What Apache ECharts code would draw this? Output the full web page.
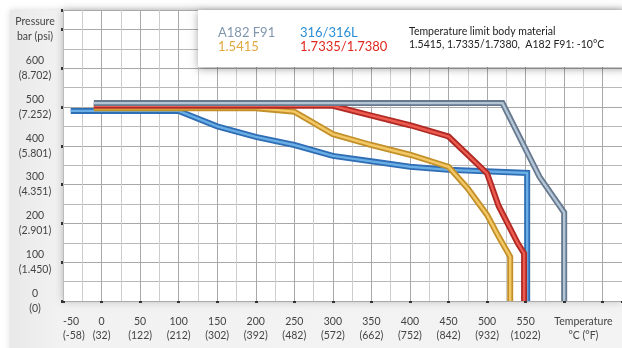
<!DOCTYPE html>
<html><head><meta charset="utf-8">
<script src="https://cdn.jsdelivr.net/npm/echarts@6/dist/echarts.min.js"></script>
<style>html,body{margin:0;padding:0;background:#fff}#c{width:622px;height:348px}</style>
</head><body><div id="c"></div>
<script>
// Tick labels
const xLabelPositions = [-50,0,50,100,150,200,250,300,350,400,450,500,550,625];
const xTickLabels = ['-50\n(-58)','0\n(32)','50\n(122)','100\n(212)','150\n(302)','200\n(392)','250\n(482)','300\n(572)','350\n(662)','400\n(752)','450\n(842)','500\n(932)','550\n(1022)','Temperature\n°C (°F)'];
const yLabelPositions = [0,100,200,300,400,500,600,700];
const yTickLabels = ['0\n(0)','100\n(1.450)','200\n(2.901)','300\n(4.351)','400\n(5.801)','500\n(7.252)','600\n(8.702)','Pressure\nbar (psi)'];

// Series: [temperature °C, pressure bar]
const a182F91 = [[-10,510],[520,510],[568,320],[600,228],[600,0]];
const s316L = [[-40,490],[100,490],[150,450],[200,423],[250,402],[300,374],[350,360],[400,346],[450,338],[552,330],[552,0]];
const m15415 = [[-10,497],[200,497],[250,488],[300,430],[350,402],[400,377],[450,346],[475,290],[500,222],[515,166],[530,114],[530,0]];
const m17335 = [[-10,503],[300,503],[350,478],[400,453],[450,424],[500,329],[515,245],[540,148],[548,123],[548,0]];

const seriesDefs = [
  {name:'316/316L', data:s316L, outer:'#2f6db4', inner:'#6aaee6'},
  {name:'1.5415', data:m15415, outer:'#c3902a', inner:'#f3c866'},
  {name:'1.7335/1.7380', data:m17335, outer:'#b02a24', inner:'#ec5a50'},
  {name:'A182 F91', data:a182F91, outer:'#66798f', inner:'#b4c5d6'}
];
const series = [];
seriesDefs.forEach(d => {
  series.push({type:'line', name:d.name, data:d.data, symbol:'none', silent:true,
    lineStyle:{color:d.outer, width:6, join:'miter', cap:'butt'}});
  series.push({type:'line', name:d.name+' ', data:d.data, symbol:'none', silent:true,
    lineStyle:{color:d.inner, width:2.4, join:'miter', cap:'butt'}});
});

const FONT = 'Lato';
function txt(x, y, text, color, size) {
  return {type:'text', x:x, y:y, z:101, style:{text:text, fill:color, fontFamily:FONT, fontSize:size, verticalAlign:'middle', align:'left'}};
}
const chart = echarts.init(document.getElementById('c'), null, {renderer:'canvas'});
chart.setOption({
  animation:false,
  backgroundColor:'#fff',
  textStyle:{fontFamily:FONT},
  graphic:[
    {type:'rect', z:-10, shape:{x:10,y:10,width:620,height:345},
      style:{fill:new echarts.graphic.LinearGradient(0,0,1,0,[{offset:0,color:'#e9e9e9'},{offset:0.08,color:'#f2f2f2'},{offset:1,color:'#f3f3f3'}]),
      shadowBlur:6, shadowColor:'rgba(0,0,0,0.15)'}},
    {type:'rect', z:100, shape:{x:198,y:10,width:430,height:57},
      style:{fill:'#fff', shadowBlur:8, shadowOffsetY:2, shadowColor:'rgba(0,0,0,0.35)'}},
    txt(218, 33, 'A182 F91', '#8096ad', 13),
    txt(218, 47, '1.5415', '#e0a840', 13),
    txt(300, 33, '316/316L', '#2a8ed6', 13),
    txt(300, 47, '1.7335/1.7380', '#e0281f', 13),
    txt(409, 32, 'Temperature limit body material', '#222', 10.5),
    txt(409, 45, '1.5415, 1.7335/1.7380,  A182 F91: -10°C', '#222', 10.5)
  ],
  grid:{left:63, top:10, width:561, height:291, show:true, backgroundColor:'#fff', borderWidth:0,
    shadowBlur:8, shadowColor:'rgba(0,0,0,0.25)'},
  xAxis:{type:'value', min:-50, max:675, interval:50,
    axisLine:{show:true, onZero:false, lineStyle:{color:'#aaa', width:1}},
    axisTick:{show:true, length:2, inside:false, lineStyle:{color:'#333', width:3}},
    axisLabel:{customValues:xLabelPositions, color:'#444', fontSize:10.5, lineHeight:14.5, margin:13, alignMinLabel:'left',
      formatter:(v)=>{const i=xLabelPositions.indexOf(v); return i>=0?xTickLabels[i]:'';}},
    splitLine:{show:true, lineStyle:{color:'#a8a8a8', width:1}},
    minorTick:{show:false, splitNumber:2},
    minorSplitLine:{show:true, lineStyle:{color:'#cdcdcd', width:1}}
  },
  yAxis:{type:'value', min:0, max:750, interval:100,
    axisLine:{show:true, onZero:false, lineStyle:{color:'#bbb', width:1}},
    axisTick:{show:true, length:2, inside:false, lineStyle:{color:'#333', width:3}},
    axisLabel:{customValues:yLabelPositions, color:'#444', fontSize:10.5, lineHeight:15, margin:28, align:'center',
      formatter:(v)=>{const i=yLabelPositions.indexOf(v); return i>=0?yTickLabels[i]:'';}},
    splitLine:{show:true, lineStyle:{color:'#a8a8a8', width:1}},
    minorTick:{show:false, splitNumber:2},
    minorSplitLine:{show:true, lineStyle:{color:'#b8b8b8', width:1}}
  },
  series:series
});
</script></body></html>
